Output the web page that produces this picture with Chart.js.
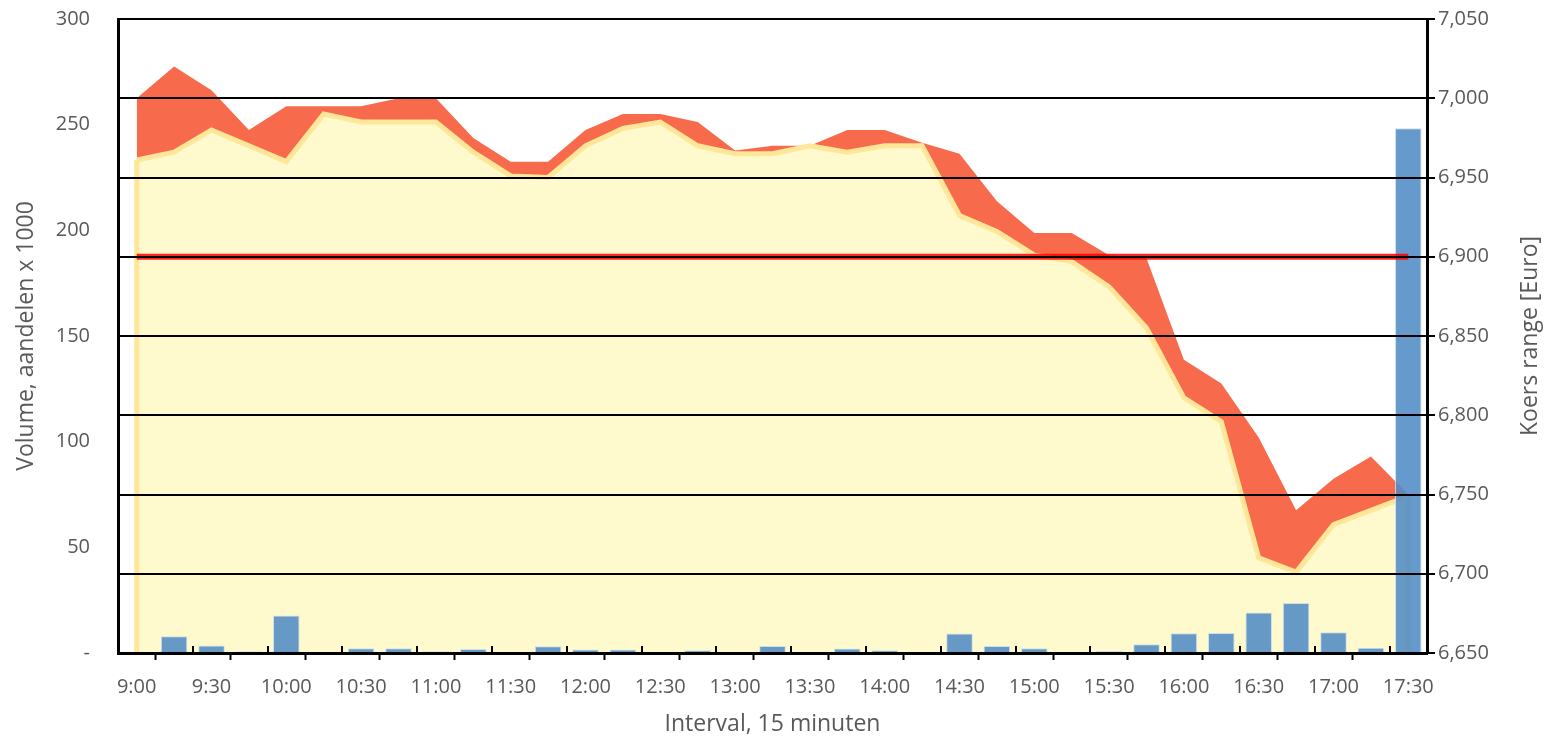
<!DOCTYPE html>
<html>
<head>
<meta charset="utf-8">
<script src="https://cdn.jsdelivr.net/npm/chart.js@4/dist/chart.umd.min.js"></script>
<style>
  html, body { margin: 0; padding: 0; background: #fff; }
  #wrap { width: 1548px; height: 740px; }
</style>
</head>
<body>
<div id="wrap"><canvas id="koers-chart" width="1548" height="740"></canvas></div>
<script>
// categories: 15 minute intervals
const times = ["9:00", "9:15", "9:30", "9:45", "10:00", "10:15", "10:30", "10:45",
  "11:00", "11:15", "11:30", "11:45", "12:00", "12:15", "12:30", "12:45",
  "13:00", "13:15", "13:30", "13:45", "14:00", "14:15", "14:30", "14:45",
  "15:00", "15:15", "15:30", "15:45", "16:00", "16:15", "16:30", "16:45",
  "17:00", "17:15", "17:30"];

// volume, aandelen x 1000
const volume = [0.6, 7.9, 3.5, 0.8, 17.7, 0, 2.2, 2.2, 0.8, 1.9, 0, 3.2, 1.6, 1.6, 0.6, 1.3,
  0, 3.3, 0, 2.1, 1.3, 0, 9.2, 3.3, 2.2, 0.6, 0.9, 4.1, 9.3, 9.5, 19.2, 23.7,
  9.8, 2.5, 248.3];

// koers laag / hoog per interval [Euro]
const koersLow = [6961, 6966, 6980, 6970, 6960, 6990, 6985, 6985, 6985, 6966, 6951, 6950,
  6970, 6981, 6985, 6970, 6965, 6965, 6970, 6966, 6970, 6970, 6926, 6916,
  6901, 6897, 6881, 6855, 6811, 6796, 6710, 6701, 6731, 6740, 6749];
const koersHigh = [7000, 7020, 7005, 6980, 6995, 6995, 6995, 7000, 7000, 6975, 6960, 6960,
  6980, 6990, 6990, 6985, 6967, 6970, 6970, 6980, 6980, 6972, 6965, 6935,
  6915, 6915, 6901, 6899, 6835, 6820, 6786, 6740, 6760, 6774, 6750];

// referentie koers
const refKoers = 6900;

// axis ranges
const volumeTicks = { min: 0, max: 300, step: 50 };
const koersTicks = { min: 6650, max: 7050, step: 50 };

const textColor = "#595959";
const fontFamily = "'Open Sans', 'Noto Sans', sans-serif";
const titleFont = { size: 23 };
const lowLine = "#FFE699";

Chart.defaults.font.family = fontFamily;
Chart.defaults.font.size = 20;
Chart.defaults.color = textColor;

const axisExtras = {
  id: "axisExtras",
  // close the low-area outline at both ends, like the spreadsheet does
  afterDatasetDraw(chart, args) {
    if (args.index !== 0) return;
    const { ctx, chartArea } = chart;
    const pts = args.meta.data;
    ctx.save();
    ctx.beginPath();
    ctx.rect(chartArea.left, chartArea.top, chartArea.width, chartArea.height);
    ctx.clip();
    ctx.strokeStyle = lowLine;
    ctx.lineWidth = 5;
    [pts[0], pts[pts.length - 1]].forEach((p) => {
      ctx.beginPath();
      ctx.moveTo(p.x, p.y);
      ctx.lineTo(p.x, chartArea.bottom);
      ctx.stroke();
    });
    ctx.restore();
  },
  // small inward ticks on the category axis + right axis title (reads bottom to top)
  afterDraw(chart) {
    const { ctx, scales: { x } } = chart;
    const step = x.width / times.length;
    ctx.save();
    ctx.strokeStyle = "#000";
    ctx.lineWidth = 2;
    for (let k = 2; k < times.length; k += 2) {
      const px = Math.round(x.left + k * step);
      ctx.beginPath();
      ctx.moveTo(px, x.top - 7);
      ctx.lineTo(px, x.top);
      ctx.stroke();
    }
    ctx.translate(1530, (chart.chartArea.top + chart.chartArea.bottom) / 2);
    ctx.rotate(-Math.PI / 2);
    ctx.font = titleFont.size + "px " + fontFamily;
    ctx.fillStyle = textColor;
    ctx.textAlign = "center";
    ctx.textBaseline = "middle";
    ctx.fillText("Koers range [Euro]", 0, 0);
    ctx.restore();
  }
};

const canvas = document.getElementById("koers-chart");
new Chart(canvas.getContext("2d"), {
  type: "bar",
  data: {
    labels: times,
    datasets: [
      {
        type: "line",
        label: "Laag",
        data: koersLow,
        yAxisID: "y2",
        order: 2,
        fill: "start",
        backgroundColor: "#FFFACD",
        borderColor: lowLine,
        borderWidth: 5,
        pointRadius: 0,
        tension: 0
      },
      {
        type: "line",
        label: "Hoog",
        data: koersHigh,
        yAxisID: "y2",
        order: 3,
        fill: "-1",
        backgroundColor: "#F76B4C",
        borderColor: "#F76B4C",
        borderWidth: 0,
        pointRadius: 0,
        tension: 0
      },
      {
        label: "Volume",
        data: volume,
        yAxisID: "y",
        order: 1,
        backgroundColor: "rgba(81, 139, 197, 0.88)",
        borderColor: "rgba(200, 220, 236, 0.9)",
        borderWidth: 1,
        barPercentage: 0.71,
        categoryPercentage: 1
      },
      {
        type: "line",
        label: "Referentie",
        data: times.map(() => refKoers),
        yAxisID: "y2",
        order: 0,
        fill: false,
        borderColor: "rgba(255, 0, 0, 0.85)",
        borderWidth: 6,
        pointRadius: 0
      }
    ]
  },
  options: {
    responsive: false,
    devicePixelRatio: 1,
    animation: false,
    layout: { padding: { top: 19, left: 0, right: 0, bottom: 0 } },
    plugins: {
      legend: { display: false },
      tooltip: { enabled: false }
    },
    scales: {
      x: {
        type: "category",
        offset: true,
        afterFit: (s) => { s.height = 87; s.paddingLeft = 0; s.paddingRight = 0; },
        grid: {
          display: true,
          offset: true,
          drawOnChartArea: false,
          drawTicks: true,
          tickLength: 7,
          tickWidth: 2,
          tickColor: (c) => (c.index % 2 === 1 ? "#000" : "rgba(0,0,0,0)")
        },
        border: { display: true, color: "#000", width: 3 },
        ticks: {
          autoSkip: false,
          maxRotation: 0,
          minRotation: 0,
          padding: 15,
          callback: (v, i) => (i % 2 === 0 ? times[i] : "")
        },
        title: {
          display: true,
          text: "Interval, 15 minuten",
          font: titleFont,
          padding: { top: 0, bottom: 2 }
        }
      },
      y: {
        position: "left",
        min: volumeTicks.min,
        max: volumeTicks.max,
        afterFit: (s) => { s.width = 118; s.paddingTop = 0; s.paddingBottom = 0; },
        grid: { display: false, drawTicks: false, tickLength: 0 },
        border: { display: true, color: "#000", width: 3 },
        ticks: {
          stepSize: volumeTicks.step,
          padding: 28,
          callback: (v) => (v === 0 ? "-" : v)
        },
        title: {
          display: true,
          text: "Volume, aandelen x 1000",
          font: titleFont,
          padding: { top: 13, bottom: 0 }
        }
      },
      y2: {
        position: "right",
        min: koersTicks.min,
        max: koersTicks.max,
        afterFit: (s) => { s.width = 121; s.paddingTop = 0; s.paddingBottom = 0; },
        grid: {
          display: true,
          drawOnChartArea: true,
          z: 1,
          color: "#000",
          lineWidth: 2,
          drawTicks: true,
          tickLength: 8,
          tickColor: "#000"
        },
        border: { display: true, color: "#000", width: 3, z: 1 },
        ticks: {
          stepSize: koersTicks.step,
          padding: 3,
          callback: (v) => v.toLocaleString("en-US")
        }
      }
    }
  },
  plugins: [axisExtras]
});
</script>
</body>
</html>
